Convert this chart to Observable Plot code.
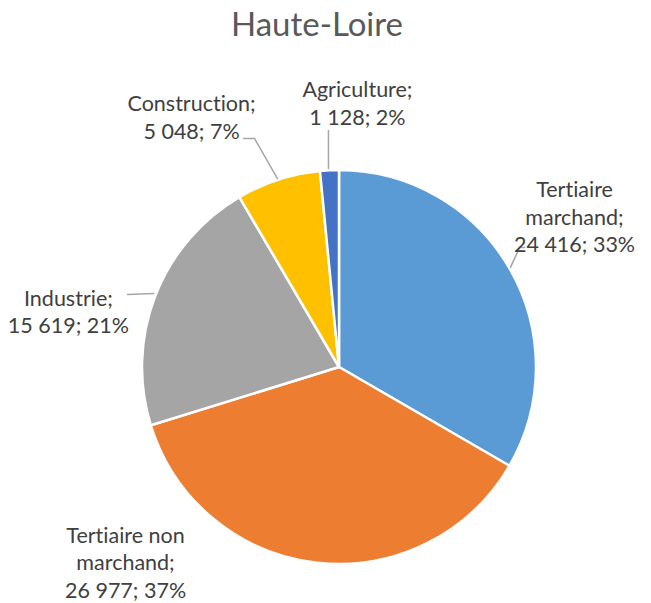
<!DOCTYPE html>
<html>
<head>
<meta charset="utf-8">
<script src="https://cdn.jsdelivr.net/npm/d3@7"></script>
<script src="https://cdn.jsdelivr.net/npm/@observablehq/plot@0.6"></script>
<style>
  html, body { margin: 0; padding: 0; background: #fff; }
  svg text { font-variant-ligatures: none; font-feature-settings: "liga" 0, "clig" 0; }
</style>
</head>
<body>
<div id="chart"></div>
<script>
// ---- data ----
const title = "Haute-Loire";
const categories = ["Tertiaire marchand", "Tertiaire non marchand", "Industrie", "Construction", "Agriculture"];
const categoryLines = ["Tertiaire\nmarchand;", "Tertiaire non\nmarchand;", "Industrie;", "Construction;", "Agriculture;"];
const values = [24416, 26977, 15619, 5048, 1128];
const valueLabels = ["24 416", "26 977", "15 619", "5 048", "1 128"];
const percentLabels = ["33%", "37%", "21%", "7%", "2%"];
const colors = ["#5B9BD5", "#ED7D31", "#A5A5A5", "#FFC000", "#4472C4"];

// ---- layout (unit-radius coordinates, centre = 0,0) ----
const labelPos = [[1.193, 0.77], [-1.086, -0.985], [-1.376, 0.289], [-0.751, 1.275], [0.091, 1.347]];
const leaders = [
  [[0.939, 0.609], [0.914, 0.609], [0.868, 0.508]],
  [],
  [[-1.076, 0.371], [-0.943, 0.376]],
  [[-0.487, 1.162], [-0.431, 1.162], [-0.315, 0.959]],
  [[-0.056, 1.203], [-0.056, 1.010]]
];

const color = Plot.scale({color: {domain: categories, range: colors}});

const labels = categories.map((c, i) => ({
  u: labelPos[i][0], v: labelPos[i][1],
  text: `${categoryLines[i]}\n${valueLabels[i]}; ${percentLabels[i]}`
}));
const leaderPts = leaders.flatMap((pts, i) => pts.map(([u, v]) => ({u, v, k: categories[i]})));

function pieMark(index, scales) {
  const cx = scales.x(0), cy = scales.y(0), r = scales.x(1) - scales.x(0);
  const arcs = d3.pie().sort(null).startAngle(0).endAngle(2 * Math.PI)(values);
  const arc = d3.arc().innerRadius(0).outerRadius(r);
  const g = d3.create("svg:g").attr("transform", `translate(${cx},${cy})`);
  g.selectAll("path").data(arcs).join("path")
    .attr("d", arc)
    .attr("fill", (d, i) => color.apply(categories[i]))
    .attr("stroke", "white")
    .attr("stroke-width", 2.5)
    .attr("stroke-linejoin", "round");
  return g.node();
}

const chart = Plot.plot({
  width: 651,
  height: 603,
  margin: 0,
  style: {fontFamily: "Lato, 'Open Sans', sans-serif", background: "white"},
  x: {domain: [-1, 1], range: [142, 536], axis: null},
  y: {domain: [-1, 1], range: [564, 170], axis: null},
  marks: [
    pieMark,
    Plot.line(leaderPts, {x: "u", y: "v", z: "k", stroke: "#A6A6A6", strokeWidth: 1.5}),
    Plot.text(labels, {x: "u", y: "v", text: "text", fontSize: 21.5, lineHeight: 1.27, fill: "#404040", textAnchor: "middle"}),
    Plot.text([title], {frameAnchor: "top", dy: 12, dx: -9, text: d => d, fontSize: 33, fill: "#595959"})
  ]
});
document.getElementById("chart").appendChild(chart);
</script>
</body>
</html>
